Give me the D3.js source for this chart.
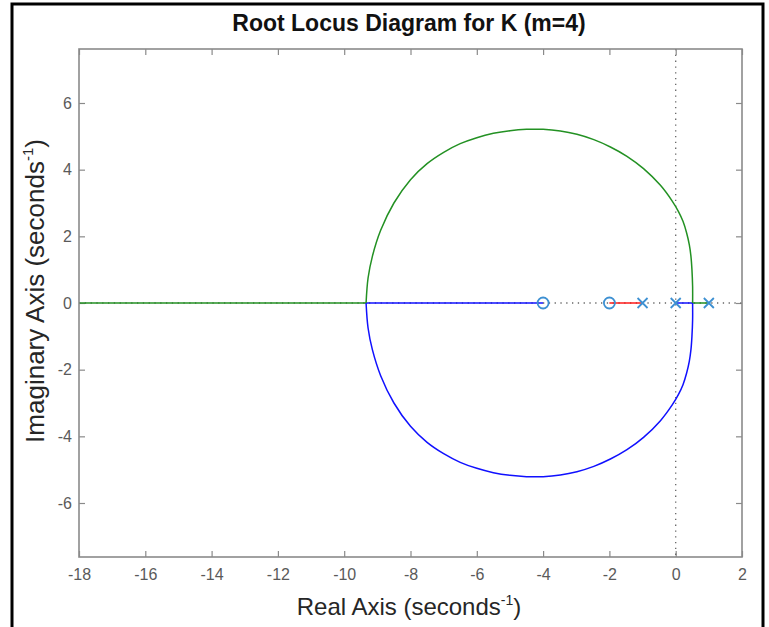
<html>
<head><meta charset="utf-8"></head>
<script src="https://d3js.org/d3.v7.min.js"></script>
<body style="margin:0;background:#fff">
<script>
    var width = 769
    var height = 627
    var font = 'Liberation Sans, Arial, Helvetica, sans-serif'

    // tick labels
    var xTicks = [-18, -16, -14, -12, -10, -8, -6, -4, -2, 0, 2]
    var yTicks = [-6, -4, -2, 0, 2, 4, 6]

    // open loop poles (x) and zeros (o), real parts
    var poles = [1, 0, -1]
    var zeros = [-2, -4]

    // upper locus branch (green), from breakaway at 0.51 round to -9.34
    var upperRe = [0.51, 0.51, 0.49, 0.46, 0.41, 0.33, 0.22, 0.08, -0.1, -0.46, -0.97, -1.47, -1.97, -2.47, -2.98, -3.48, -4.0, -4.5, -5.0, -5.5, -6.0, -6.5, -7.0, -7.5, -8.0, -8.5, -8.9, -9.15, -9.28, -9.34]
    var upperIm = [0, 0.5, 1.0, 1.4, 1.75, 2.1, 2.45, 2.75, 3.05, 3.53, 4.03, 4.40, 4.68, 4.90, 5.06, 5.16, 5.21, 5.21, 5.17, 5.09, 4.96, 4.78, 4.52, 4.18, 3.7, 3.0, 2.18, 1.4, 0.75, 0]
    // lower locus branch (blue), same real parts
    var lowerRe = [0.51, 0.51, 0.49, 0.46, 0.41, 0.33, 0.22, 0.08, -0.1, -0.46, -0.97, -1.47, -1.97, -2.47, -2.98, -3.48, -4.0, -4.5, -5.0, -5.5, -6.0, -6.5, -7.0, -7.5, -8.0, -8.5, -8.9, -9.15, -9.28, -9.34]
    var lowerIm = [0, -0.5, -1.0, -1.4, -1.75, -2.1, -2.45, -2.75, -3.05, -3.53, -4.03, -4.40, -4.68, -4.90, -5.06, -5.16, -5.21, -5.21, -5.17, -5.09, -4.96, -4.78, -4.52, -4.18, -3.7, -3.0, -2.18, -1.4, -0.75, 0]

    // pieces of the locus that run along the real axis: [from, to]
    var greenReal = [[1, 0.51], [-9.34, -18]]
    var blueReal = [[0, 0.51], [-9.34, -4]]
    var redReal = [[-1, -2]]

    var svg = d3.select('body').append('svg').attr('width', width).attr('height', height)
    svg.append('rect').attr('width', width).attr('height', height).attr('fill', '#fff')

    var plotL = 79, plotR = 742, plotT = 49, plotB = 557
    var x = d3.scaleLinear().domain([-18, 2]).range([plotL, plotR])
    var y = d3.scaleLinear().domain([-7.62, 7.62]).range([plotB, plotT])

    var axisColor = '#8a8a8a'
    var labColor = '#5a5a5a'
    var fmt = function(d){return String(d)}

    function styleAxis(g) {
        g.select('.domain').remove()
        g.selectAll('line').attr('stroke', axisColor).attr('stroke-width', 1.2)
        g.selectAll('text').attr('fill', labColor).style('font-family', font).style('font-size', '16px')
    }

    svg.append('g').attr('transform', `translate(0,${plotB})`)
        .call(d3.axisBottom(x).tickValues(xTicks).tickSizeInner(-6).tickSizeOuter(0).tickPadding(12).tickFormat(fmt))
        .call(styleAxis)
    svg.append('g').attr('transform', `translate(0,${plotT})`)
        .call(d3.axisTop(x).tickValues(xTicks).tickSizeInner(-6).tickSizeOuter(0).tickFormat(''))
        .call(styleAxis)
    svg.append('g').attr('transform', `translate(${plotL},0)`)
        .call(d3.axisLeft(y).tickValues(yTicks).tickSizeInner(-6).tickSizeOuter(0).tickPadding(7).tickFormat(fmt))
        .call(styleAxis)
    svg.append('g').attr('transform', `translate(${plotR},0)`)
        .call(d3.axisRight(y).tickValues(yTicks).tickSizeInner(-6).tickSizeOuter(0).tickFormat(''))
        .call(styleAxis)

    // dotted zero lines
    var dots = svg.append('g').attr('stroke', '#666').attr('stroke-width', 1.3).attr('stroke-dasharray', '1.3,4.5')
    dots.append('line').attr('x1', x(0)).attr('x2', x(0)).attr('y1', plotT).attr('y2', plotB)
    dots.append('line').attr('x1', plotL).attr('x2', plotR).attr('y1', y(0)).attr('y2', y(0))

    // locus
    var line = d3.line().x(function(d){return x(d[0])}).y(function(d){return y(d[1])})
    var curve = d3.line().curve(d3.curveCatmullRom).x(function(d){return x(d[0])}).y(function(d){return y(d[1])})
    var g_loc = svg.append('g').attr('fill', 'none').attr('stroke-width', 1.5)

    var green = '#239123', blue = '#1010ff', red = '#ff1a1a'
    function realSeg(segs, color) {
        segs.forEach(function(s) {
            g_loc.append('path').attr('d', line([[s[0], 0], [s[1], 0]])).attr('stroke', color)
        })
    }
    realSeg(redReal, red)
    realSeg(blueReal, blue)
    realSeg(greenReal, green)
    g_loc.append('path').attr('d', curve(d3.zip(upperRe, upperIm))).attr('stroke', green)
    g_loc.append('path').attr('d', curve(d3.zip(lowerRe, lowerIm))).attr('stroke', blue)

    // poles and zeros
    var mk = '#3d90d2'
    var g_mk = svg.append('g').attr('fill', 'none').attr('stroke', mk).attr('stroke-width', 1.8)
    g_mk.selectAll('circle').data(zeros).enter().append('circle')
        .attr('cx', function(d){return x(d)}).attr('cy', y(0)).attr('r', 5.5)
    var s = 5
    g_mk.selectAll('path').data(poles).enter().append('path')
        .attr('d', function(d){
            var cx = x(d), cy = y(0)
            return `M${cx-s},${cy-s}L${cx+s},${cy+s}M${cx-s},${cy+s}L${cx+s},${cy-s}`
        })

    // box
    svg.append('rect').attr('x', plotL).attr('y', plotT).attr('width', plotR - plotL).attr('height', plotB - plotT)
        .attr('fill', 'none').attr('stroke', axisColor).attr('stroke-width', 1.6)

    // text
    svg.append('text').attr('x', 409).attr('y', 31).attr('text-anchor', 'middle')
        .style('font-family', font).style('font-size', '23px').style('font-weight', 'bold').attr('fill', '#111')
        .text('Root Locus Diagram for K (m=4)')

    var xl = svg.append('text').attr('x', 409).attr('y', 615).attr('text-anchor', 'middle')
        .style('font-family', font).style('font-size', '24px').attr('fill', '#262626')
    xl.append('tspan').text('Real Axis (seconds')
    xl.append('tspan').attr('dy', -10).style('font-size', '14px').text('-1')
    xl.append('tspan').attr('dy', 10).text(')')

    var yl = svg.append('text').attr('transform', `translate(44,291) rotate(-90)`).attr('text-anchor', 'middle')
        .style('font-family', font).style('font-size', '26px').attr('fill', '#262626')
    yl.append('tspan').text('Imaginary Axis (seconds')
    yl.append('tspan').attr('dy', -11).style('font-size', '15px').text('-1')
    yl.append('tspan').attr('dy', 11).text(')')

    // outer frame
    svg.append('rect').attr('x', 12).attr('y', 4).attr('width', 751).attr('height', 700)
        .attr('fill', 'none').attr('stroke', '#000').attr('stroke-width', 3)
</script>
</body>
</html>
